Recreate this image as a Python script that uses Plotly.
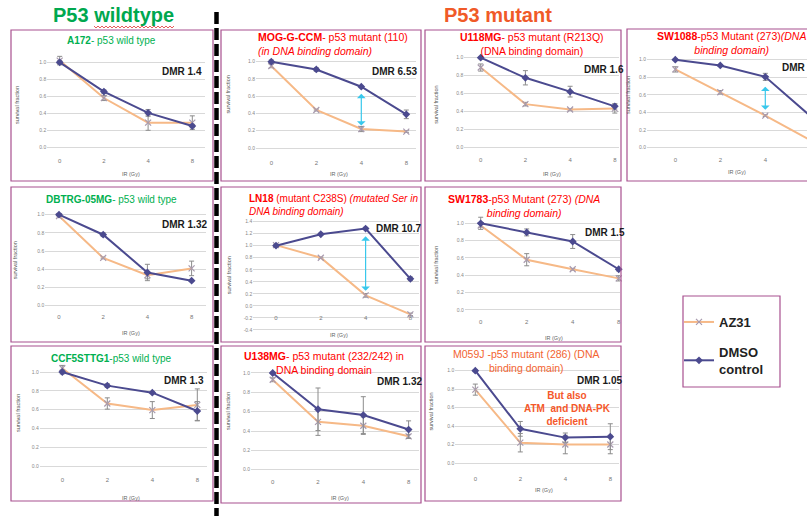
import plotly.graph_objects as go

W, H = 807, 516

# ---------------- data ----------------
doses = ["0", "2", "4", "8"]

a172_dmso = [1.00, 0.655, 0.405, 0.25]
a172_dmso_err = [0.02, 0.02, 0.04, 0.02]
a172_az31 = [1.02, 0.58, 0.29, 0.29]
a172_az31_err = [0.05, 0.03, 0.09, 0.08]

mog_dmso = [1.00, 0.91, 0.71, 0.39]
mog_dmso_err = [0.02, 0.02, 0.01, 0.05]
mog_az31 = [0.95, 0.44, 0.22, 0.19]
mog_az31_err = [0.02, 0.01, 0.03, 0.01]

u118_dmso = [1.00, 0.775, 0.62, 0.455]
u118_dmso_err = [0.01, 0.08, 0.06, 0.03]
u118_az31 = [0.89, 0.48, 0.42, 0.43]
u118_az31_err = [0.04, 0.02, 0.01, 0.05]

sw1088_dmso = [1.00, 0.935, 0.805, 0.36]
sw1088_dmso_err = [0.01, 0.01, 0.04, 0.02]
sw1088_az31 = [0.89, 0.63, 0.365, 0.085]
sw1088_az31_err = [0.03, 0.02, 0.01, 0.01]

dbtrg_dmso = [1.00, 0.78, 0.365, 0.275]
dbtrg_dmso_err = [0.01, 0.02, 0.09, 0.01]
dbtrg_az31 = [0.985, 0.525, 0.335, 0.41]
dbtrg_az31_err = [0.01, 0.01, 0.04, 0.08]

ln18_dmso = [1.00, 1.19, 1.285, 0.45]
ln18_dmso_err = [0.02, 0.02, 0.02, 0.03]
ln18_az31 = [1.01, 0.80, 0.175, -0.14]
ln18_az31_err = [0.02, 0.01, 0.03, 0.02]

sw1783_dmso = [1.00, 0.895, 0.79, 0.47]
sw1783_dmso_err = [0.07, 0.04, 0.08, 0.02]
sw1783_az31 = [0.975, 0.58, 0.47, 0.365]
sw1783_az31_err = [0.02, 0.07, 0.01, 0.03]

ccf5_dmso = [1.00, 0.855, 0.78, 0.585]
ccf5_dmso_err = [0.02, 0.02, 0.01, 0.10]
ccf5_az31 = [1.04, 0.665, 0.595, 0.65]
ccf5_az31_err = [0.03, 0.06, 0.09, 0.17]

u138_dmso = [1.00, 0.625, 0.565, 0.415]
u138_dmso_err = [0.01, 0.22, 0.19, 0.09]
u138_az31 = [0.93, 0.495, 0.455, 0.345]
u138_az31_err = [0.02, 0.14, 0.09, 0.02]

m059j_dmso = [1.00, 0.37, 0.275, 0.285]
m059j_dmso_err = [0.01, 0.08, 0.05, 0.14]
m059j_az31 = [0.795, 0.22, 0.20, 0.20]
m059j_az31_err = [0.06, 0.10, 0.10, 0.10]

dmr_labels = ["DMR 1.4", "DMR 6.53", "DMR 1.6", "DMR 2.2", "DMR 1.32",
              "DMR 10.7", "DMR 1.5", "DMR 1.3", "DMR 1.32", "DMR 1.05"]

# ---------------- styling ----------------
DMSO_COLOR = "#4B4A8F"
AZ_COLOR = "#F6B987"
GREEN = "#00B050"
RED = "#FF0000"
ORANGE = "#F26430"
BOX = "#A8508F"
FONT = "Liberation Sans, Arial, sans-serif"


def fx(px):
    return px / W


def fy(py):
    return 1 - py / H


# panel layout: plot area (px), position of first dose, dose spacing,
# pixel of y=0, pixels per unit, y range, x-label row, DMR label spot
panels = [
    dict(d=a172_dmso, de=a172_dmso_err, a=a172_az31, ae=a172_az31_err,
         left=47.3, right=204.7, x0=59.7, step=44.2, y0=147.3, ppu=85,
         ymin=-0.06, ymax=1.12, ticks=(0, 1.0), xlab=160.7,
         dmr=(159.7, 71.7), irgy=(131.3, 174), sf=(16.3, 104.7)),
    dict(d=mog_dmso, de=mog_dmso_err, a=mog_az31, ae=mog_az31_err,
         left=256, right=416, x0=271.3, step=45, y0=148, ppu=86.3,
         ymin=-0.06, ymax=1.12, ticks=(0, 1.0), xlab=163,
         dmr=(370, 71.3), irgy=(339.3, 173.7), sf=(227.7, 94.7)),
    dict(d=u118_dmso, de=u118_dmso_err, a=u118_az31, ae=u118_az31_err,
         left=464.3, right=619, x0=480.7, step=44.7, y0=147, ppu=89.3,
         ymin=-0.06, ymax=1.12, ticks=(0, 1.0), xlab=159.7,
         dmr=(582, 69.7), irgy=(552, 173.7), sf=(436, 104.7)),
    dict(d=sw1088_dmso, de=sw1088_dmso_err, a=sw1088_az31, ae=sw1088_az31_err,
         left=647, right=807, x0=675.3, step=45, y0=147.7, ppu=88,
         ymin=-0.06, ymax=1.12, ticks=(0, 1.0), xlab=160,
         dmr=(780.3, 67.7), irgy=(737, 171.7), sf=(628, 95)),
    dict(d=dbtrg_dmso, de=dbtrg_dmso_err, a=dbtrg_az31, ae=dbtrg_az31_err,
         left=45.3, right=206.3, x0=59, step=44.2, y0=305.7, ppu=91,
         ymin=-0.06, ymax=1.12, ticks=(0, 1.0), xlab=316.7,
         dmr=(159.7, 224), irgy=(131.3, 332.7), sf=(15.3, 260)),
    dict(d=ln18_dmso, de=ln18_dmso_err, a=ln18_az31, ae=ln18_az31_err,
         left=253.3, right=419.3, x0=276, step=44.8, y0=305.9, ppu=60.2,
         ymin=-0.46, ymax=1.46, ticks=(-0.4, 1.4), xlab=317.7,
         dmr=(374.3, 228.3), irgy=(338.7, 335), sf=(229.3, 275)),
    dict(d=sw1783_dmso, de=sw1783_dmso_err, a=sw1783_az31, ae=sw1783_az31_err,
         left=464.7, right=620, x0=480.7, step=46, y0=310, ppu=86.7,
         ymin=-0.06, ymax=1.12, ticks=(0, 1.0), xlab=322.3,
         dmr=(582.5, 232.3), irgy=(553.7, 338.3), sf=(436, 265)),
    dict(d=ccf5_dmso, de=ccf5_dmso_err, a=ccf5_az31, ae=ccf5_az31_err,
         left=39.7, right=207.3, x0=62.3, step=45, y0=466, ppu=94,
         ymin=-0.06, ymax=1.12, ticks=(0, 1.0), xlab=479.7,
         dmr=(162, 380.3), irgy=(131.3, 498), sf=(18, 413)),
    dict(d=u138_dmso, de=u138_dmso_err, a=u138_az31, ae=u138_az31_err,
         left=251, right=419.3, x0=272.7, step=45.3, y0=469.7, ppu=96.7,
         ymin=-0.06, ymax=1.12, ticks=(0, 1.0), xlab=482.3,
         dmr=(375.3, 381.3), irgy=(340, 498), sf=(228.7, 411.3)),
    dict(d=m059j_dmso, de=m059j_dmso_err, a=m059j_az31, ae=m059j_az31_err,
         left=455.3, right=618.7, x0=475.3, step=45, y0=463, ppu=92.3,
         ymin=-0.06, ymax=1.12, ticks=(0, 1.0), xlab=479,
         dmr=(575.3, 380), irgy=(543.7, 489.7), sf=(431.3, 411.3)),
]

titles = [
    ("<b>A172</b>- p53 wild type", 111, 40.3, "center", GREEN, 10),
    ("<b>MOG-G-CCM</b>- p53 mutant (110)<br><i>(in DNA binding domain)</i>",
     256, 43.5, "left", RED, 10.5),
    ("<b>U118MG</b>- p53 mutant (R213Q)<br>(DNA binding domain)",
     532, 43.5, "center", RED, 10.5),
    ("<b>SW1088</b>-p53 Mutant (273)<i>(DNA</i><br><i>binding domain)</i>",
     731, 42.5, "center", RED, 10.5),
    ("<b>DBTRG-05MG</b>- p53 wild type", 111.3, 199.3, "center", GREEN, 10),
    ("<b>LN18</b> (mutant C238S) <i>(mutated Ser in</i><br><i>DNA binding domain)</i>",
     246.7, 205.2, "left", RED, 10),
    ("<b>SW1783</b>-p53 Mutant (273) <i>(DNA</i><br><i>binding domain)</i>",
     523.7, 205.8, "center", RED, 10.5),
    ("<b>CCF5STTG1</b>-p53 wild type", 111.3, 358.7, "center", GREEN, 10),
    ("<b>U138MG</b>- p53 mutant (232/242) in<br>DNA binding domain",
     324.3, 363, "center", RED, 10.5),
    ("M059J -p53 mutant (286) (DNA<br>binding domain)",
     526, 361.2, "center", ORANGE, 10.5),
]

# panel frames (px): x0, y0, x1, y1
frames = [
    (11, 30, 213, 181), (221, 30, 421, 181), (425, 30, 621, 181), (627, 29, 815, 181),
    (11, 187, 213, 342), (221, 187, 421, 342), (425, 187, 621, 342),
    (11, 346, 213, 501), (221, 346, 421, 503), (425, 346, 621, 501),
    (683, 296, 780, 387),
]

# double-headed arrows marking the gap at 4 Gy: (panel index, top, bottom)
gap_arrows = [(1, 0.645, 0.26), (3, 0.71, 0.43), (5, 1.18, 0.25)]

fig = go.Figure()
annotations = []
shapes = []
xs = list(range(len(doses)))

for i, p in enumerate(panels):
    n = i + 1
    xa = "x" if n == 1 else f"x{n}"
    ya = "y" if n == 1 else f"y{n}"
    err_style = dict(type="data", color="#8C8C8C", thickness=1, width=2.5)

    fig.add_trace(go.Scatter(
        x=xs, y=p["a"], xaxis=xa, yaxis=ya, mode="lines+markers",
        name="<b>AZ31</b>", legendgroup="az", showlegend=(i == 0),
        line=dict(color=AZ_COLOR, width=2),
        marker=dict(symbol="x-thin", size=6, line=dict(color="#A89AAE", width=1.2)),
        error_y=dict(array=p["ae"], **err_style), cliponaxis=False,
    ))
    fig.add_trace(go.Scatter(
        x=xs, y=p["d"], xaxis=xa, yaxis=ya, mode="lines+markers",
        name="<b>DMSO<br>control</b>", legendgroup="dmso", showlegend=(i == 0),
        line=dict(color=DMSO_COLOR, width=2),
        marker=dict(symbol="diamond", size=6, color=DMSO_COLOR),
        error_y=dict(array=p["de"], **err_style), cliponaxis=False,
    ))

    top_px = p["y0"] - p["ymax"] * p["ppu"]
    bot_px = p["y0"] - p["ymin"] * p["ppu"]
    xr = [(p["left"] - p["x0"]) / p["step"], (p["right"] - p["x0"]) / p["step"]]
    lo, hi = p["ticks"]
    nt = int(round((hi - lo) / 0.2)) + 1
    yt = [round(lo + 0.2 * k, 1) for k in range(nt)]

    fig.layout[f"xaxis{'' if n == 1 else n}"] = dict(
        domain=[fx(p["left"]), fx(p["right"])], range=xr,
        anchor="free", position=fy(p["xlab"] - 5),
        tickvals=xs, ticktext=doses, ticks="", showgrid=False,
        zeroline=False, showline=False, fixedrange=True,
        tickfont=dict(size=6, color="#777777", family=FONT),
    )
    fig.layout[f"yaxis{'' if n == 1 else n}"] = dict(
        domain=[fy(bot_px), fy(top_px)], range=[p["ymin"], p["ymax"]],
        anchor=xa, tickvals=yt, ticktext=[f"{v:.1f}" for v in yt],
        ticks="", showgrid=True, gridcolor="#D9D9D9", gridwidth=1,
        zeroline=False, showline=False, fixedrange=True,
        tickfont=dict(size=5, color="#888888", family=FONT),
    )

    dx, dy = p["dmr"]
    annotations.append(dict(
        text=f"<b>{dmr_labels[i]}</b>", xref="paper", yref="paper",
        x=fx(dx), y=fy(dy), xanchor="left", yanchor="middle", showarrow=False,
        font=dict(size=10, color="#1A1A1A", family=FONT)))
    ix, iy = p["irgy"]
    annotations.append(dict(
        text="IR (Gy)", xref="paper", yref="paper", x=fx(ix), y=fy(iy),
        xanchor="center", yanchor="middle", showarrow=False,
        font=dict(size=5.5, color="#666666", family=FONT)))
    sx, sy = p["sf"]
    annotations.append(dict(
        text="survival fraction", xref="paper", yref="paper", x=fx(sx), y=fy(sy),
        xanchor="center", yanchor="middle", textangle=-90, showarrow=False,
        font=dict(size=5.5, color="#555555", family=FONT)))

for idx, top, bottom in gap_arrows:
    n = idx + 1
    xa = "x" if n == 1 else f"x{n}"
    ya = "y" if n == 1 else f"y{n}"
    annotations.append(dict(
        x=2, y=bottom, ax=2, ay=top, xref=xa, yref=ya, axref=xa, ayref=ya,
        text="", showarrow=True, arrowside="end+start", arrowhead=1,
        startarrowhead=1, arrowsize=1.2, startarrowsize=1.2, arrowwidth=1.2,
        arrowcolor="#38C8EC"))

for text, x, y, anchor, color, size in titles:
    annotations.append(dict(
        text=text, xref="paper", yref="paper", x=fx(x), y=fy(y),
        xanchor=anchor, yanchor="middle", align=anchor, showarrow=False,
        font=dict(size=size, color=color, family=FONT)))

# headings and extra note
annotations += [
    dict(text="<b>P53 wildtype</b>", xref="paper", yref="paper", x=fx(113), y=fy(15),
         xanchor="center", yanchor="middle", showarrow=False,
         font=dict(size=20, color="#00A84F", family=FONT)),
    dict(text="<b>P53 mutant</b>", xref="paper", yref="paper", x=fx(498), y=fy(15),
         xanchor="center", yanchor="middle", showarrow=False,
         font=dict(size=20, color="#F05A28", family=FONT)),
    dict(text="<b>But also<br>ATM  and DNA-PK<br>deficient</b>", xref="paper", yref="paper",
         x=fx(567), y=fy(408.5), xanchor="center", yanchor="middle", align="center",
         showarrow=False, font=dict(size=10, color="#F5582A", family=FONT)),
]

for (x0, y0, x1, y1) in frames:
    shapes.append(dict(type="rect", xref="paper", yref="paper",
                       x0=fx(x0), x1=fx(x1), y0=fy(y1), y1=fy(y0),
                       line=dict(color=BOX, width=1.2), layer="above"))

# dashed divider between the two groups
shapes.append(dict(type="line", xref="paper", yref="paper",
                   x0=fx(216.5), x1=fx(216.5), y0=fy(12), y1=0,
                   line=dict(color="black", width=4.5, dash="12px,4px"), layer="above"))

# squiggly spell-check underline below "wildtype"
wave_pts = []
xw, k = 94, 0
while xw <= 175:
    wave_pts.append((xw, 26 if k % 2 == 0 else 28))
    xw += 2
    k += 1
wave_path = " ".join(
    f"{'M' if j == 0 else 'L'} {fx(a):.5f} {fy(b):.5f}" for j, (a, b) in enumerate(wave_pts)
)
shapes.append(dict(type="path", xref="paper", yref="paper", path=wave_path,
                   line=dict(color="#E03030", width=0.8), layer="above"))

fig.update_layout(
    width=W, height=H, margin=dict(l=0, r=0, t=0, b=0),
    paper_bgcolor="white", plot_bgcolor="rgba(0,0,0,0)",
    annotations=annotations, shapes=shapes,
    showlegend=True,
    legend=dict(x=fx(679), y=fy(307), xanchor="left", yanchor="top",
                bgcolor="rgba(0,0,0,0)", borderwidth=0,
                font=dict(size=13, color="#222222", family=FONT),
                tracegroupgap=10),
    font=dict(family=FONT),
)

fig.write_html("out.html")
